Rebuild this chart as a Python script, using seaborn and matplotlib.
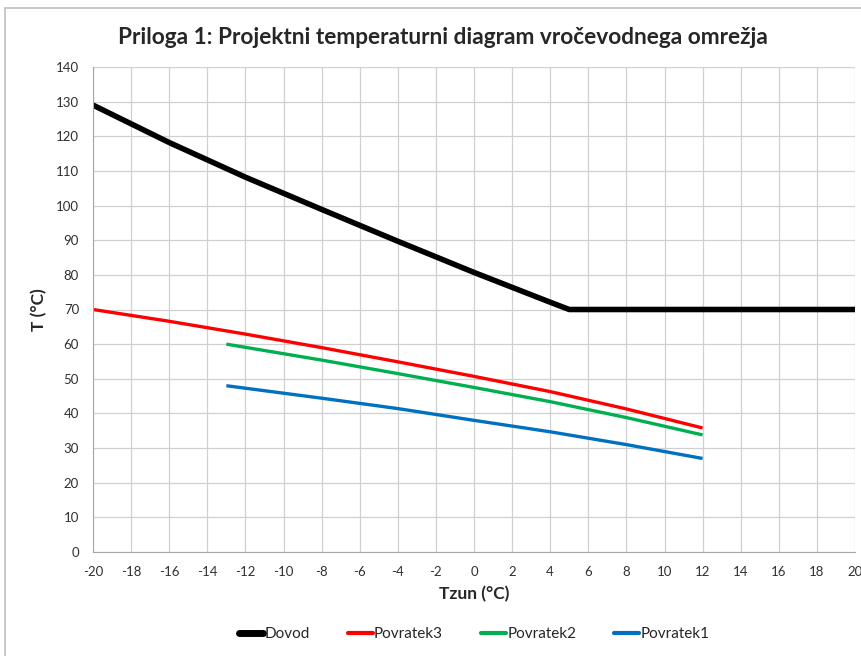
import pandas as pd
import matplotlib.pyplot as plt
import seaborn as sns
from matplotlib.patches import Rectangle

dovod_x = [-20, -16, -12, -8, -4, 0, 4, 5, 10, 15, 20]
dovod_y = [129, 118.2, 108.2, 98.9, 89.7, 80.7, 72.1, 70, 70, 70, 70]

pov3_x = [-20, -16, -12, -8, -4, 0, 4, 8, 12]
pov3_y = [70, 66.6, 62.9, 59.0, 54.9, 50.7, 46.3, 41.3, 35.8]

pov2_x = [-13, -8, -4, 0, 4, 8, 12]
pov2_y = [60, 55.4, 51.5, 47.5, 43.4, 38.8, 33.8]

pov1_x = [-13, -8, -4, 0, 4, 8, 12]
pov1_y = [48, 44.4, 41.4, 38.0, 34.7, 31.0, 27.0]

series = ["Dovod", "Povratek3", "Povratek2", "Povratek1"]
colors = ["#000000", "#ff0000", "#00b050", "#0070c0"]

frames = []
for name, xs, ys in zip(series, [dovod_x, pov3_x, pov2_x, pov1_x],
                        [dovod_y, pov3_y, pov2_y, pov1_y]):
    frames.append(pd.DataFrame({"Tzun": xs, "T": ys, "serija": name}))
data = pd.concat(frames, ignore_index=True)

sns.set_style("white")
plt.rcParams['font.family'] = ['Lato', 'DejaVu Sans']
plt.rcParams['axes.unicode_minus'] = False

fig = plt.figure(figsize=(8.61, 6.56), dpi=100)
ax = fig.add_axes([93 / 861, 1 - 552 / 656, (855 - 93) / 861, (552 - 67) / 656])

sns.lineplot(data=data, x="Tzun", y="T", hue="serija", hue_order=series,
             palette=colors, ax=ax, sort=False, estimator=None)

for line, name in zip(ax.get_lines(), series):
    line.set_linewidth(4.0 if name == "Dovod" else 2.4)
    line.set_solid_capstyle("butt")
    line.set_solid_joinstyle("round")

ax.set_xlim(-20, 20)
ax.set_ylim(0, 140)
ax.set_xticks(range(-20, 21, 2))
ax.set_yticks(range(0, 141, 10))
ax.grid(True, color="#d0d0d0", linewidth=0.9)
ax.set_axisbelow(True)
for s in ["top", "right"]:
    ax.spines[s].set_visible(False)
for s in ["left", "bottom"]:
    ax.spines[s].set_color("#a6a6a6")
ax.tick_params(axis="both", which="both", direction="out", length=4,
               color="#a6a6a6", labelsize=9.5, labelcolor="#303030", pad=6)

ax.set_xlabel("Tzun (°C)", fontsize=12.5, fontweight="bold", labelpad=6)
ax.set_ylabel("T (°C)", fontsize=12.5, fontweight="bold", labelpad=6)

fig.text(0.515, 1 - 38 / 656, "Priloga 1: Projektni temperaturni diagram vročevodnega omrežja",
         ha="center", va="center", fontsize=16.3, fontweight="bold")

handles, labels = ax.get_legend_handles_labels()
for h, name in zip(handles, series):
    h.set_linewidth(5 if name == "Dovod" else 3)
ax.legend(handles, labels, loc="center", bbox_to_anchor=(0.5, -0.17),
          ncol=4, frameon=False, fontsize=11, handlelength=1.6,
          handletextpad=0.1, columnspacing=2.5)

# outer chart border like the Excel frame
fig.add_artist(Rectangle((5 / 861, -0.05), 1.1, 1 - 8 / 656 + 0.05,
                         transform=fig.transFigure, fill=False,
                         edgecolor="#bfbfbf", linewidth=1.2))

fig.savefig("out.png", dpi=100)
